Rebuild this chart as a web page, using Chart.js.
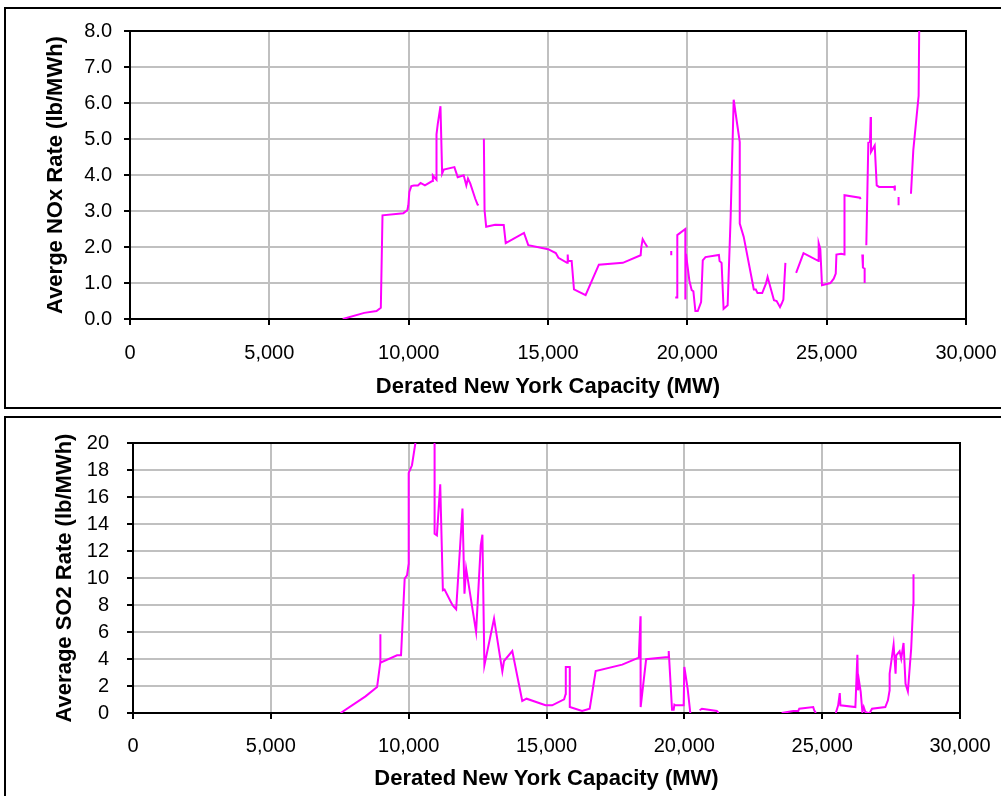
<!DOCTYPE html>
<html>
<head>
<meta charset="utf-8">
<script src="https://cdn.jsdelivr.net/npm/chart.js@4"></script>
<style>
  html, body { margin: 0; padding: 0; background: #fff; overflow: hidden; }
  body { width: 1001px; height: 796px; position: relative; }
  .frame { position: absolute; left: 4px; width: 1100px; border: 2px solid #000; }
  #frameTop { top: 7px; height: 398px; }
  #frameBottom { top: 416px; height: 500px; }
  canvas { position: absolute; left: 0; }
  #noxChart { top: 0; }
  #so2Chart { top: 410px; }
</style>
</head>
<body>
<div class="frame" id="frameTop"></div>
<div class="frame" id="frameBottom"></div>
<canvas id="noxChart" width="1001" height="408"></canvas>
<canvas id="so2Chart" width="1001" height="386"></canvas>

<script>
// ---------------- DATA ----------------
// derated capacity (MW) and NOx rate (lb/MWh); null = break in the line
const capNOx = [
    7634, 8407, 8847, 9001, 9061, 9810, 9952, 9988, 10024, 10095,
    10190, 10333, 10428, 10583, 10844, 10868, 10927, 10999, 10999, 11046,
    11141, 11201, 11260, 11641, 11760, 11974, 12069, 12129, 12212, 12390,
    12473, 12509, 12600, 12699, 12723, 12782, 13103, 13412, 13483, 14138,
    14292, 15005, 15279, 15374, 15683, 15707, 15720, 15754, 15849, 15933,
    16349, 16825, 17686, 18325, 18349, 18397, 18470, 18566, 19000, 19422,
    19423, 19500, 19566, 19639, 19640, 19928, 19929, 19940, 19952, 20072,
    20157, 20217, 20289, 20374, 20494, 20554, 20651, 21133, 21157, 21229,
    21301, 21446, 21554, 21663, 21880, 21881, 22024, 22386, 22458, 22518,
    22687, 22820, 22880, 23109, 23205, 23326, 23386, 23446, 23519, 23700,
    23904, 24169, 24712, 24713, 24772, 24832, 25133, 25254, 25326, 25350,
    25519, 25639, 25640, 26194, 26218, 26250, 26278, 26302, 26362, 26363,
    26390, 26423, 26495, 26555, 26579, 26590, 26724, 26796, 26880, 27423,
    27447, 27448, 27510, 27580, 27581, 27800, 28025, 28109, 28300, 28320
];
const rateNOx = [
    0, 0.17, 0.22, 0.31, 2.88, 2.94, 3.02, 3.16, 3.53, 3.69,
    3.71, 3.71, 3.78, 3.71, 3.83, 3.99, 3.93, 3.87, 5.13, 5.43,
    5.91, 4.04, 4.15, 4.22, 3.94, 3.99, 3.71, 3.90, 3.76, 3.34,
    3.18, 3.16, null, 5.01, 3.02, 2.56, 2.62, 2.61, 2.11, 2.39,
    2.05, 1.94, 1.83, 1.70, 1.56, 1.79, 1.61, 1.61, 1.61, 0.82,
    0.66, 1.51, 1.56, 1.77, 2.00, 2.22, 2.12, 2.00, null, 1.89,
    1.77, null, 0.60, 0.60, 2.33, 2.50, 0.54, null, 1.81, 1.07,
    0.80, 0.77, 0.22, 0.22, 0.47, 1.63, 1.72, 1.78, 1.61, 1.56,
    0.28, 0.38, 2.83, 6.09, 4.92, 2.65, 2.28, 0.82, 0.82, 0.72,
    0.72, 0.98, 1.17, 0.52, 0.50, 0.33, 0.43, 0.54, 1.56, null,
    1.28, 1.83, 1.61, 2.11, 1.95, 0.94, 1.00, 1.12, 1.26, 1.79,
    1.81, 1.79, 3.44, 3.37, 3.33, null, 1.79, 1.43, 1.40, 1.00,
    null, 2.05, 4.90, 4.92, 5.61, 4.64, 4.82, 3.71, 3.67, 3.67,
    3.71, 3.57, null, 3.39, 3.16, null, 3.48, 4.69, 6.20, 8.00
];

// derated capacity (MW) and SO2 rate (lb/MWh)
const capSO2 = [
    7530, 8434, 8855, 8970, 8972, 8976, 9578, 9723, 9855, 9940,
    10000, 10001, 10120, 10241, 10600, 10940, 10941, 11024, 11145, 11241,
    11301, 11591, 11723, 11952, 12024, 12085, 12446, 12615, 12675, 12747,
    13097, 13398, 13458, 13759, 14120, 14277, 14964, 15205, 15639, 15699,
    15700, 15844, 15845, 16290, 16567, 16784, 17747, 18349, 18409, 18415,
    18614, 19410, 19434, 19554, 19614, 19639, 19675, 19976, 20000, 20120,
    20217, 20400, 20554, 20639, 21181, 21241, 22000, 23531, 23952, 24133,
    24169, 24675, 24711, 24772, 25000, 25495, 25580, 25639, 25663, 26205,
    26278, 26302, 26338, 26398, 26459, 26507, 26567, 26663, 26723, 26808,
    27290, 27386, 27446, 27447, 27591, 27663, 27687, 27808, 27868, 27952,
    28024, 28109, 28229, 28300, 28313
];
const rateSO2 = [
    0, 1.23, 1.93, 3.73, 5.83, 3.73, 4.27, 4.27, 9.95, 10.20,
    11.06, 17.78, 18.35, 19.95, 25.0, 19.95, 13.28, 13.16, 16.94, 9.09,
    9.14, 7.98, 7.68, 15.14, 8.84, 10.69, 6.00, 12.42, 13.21, 3.53,
    6.99, 3.09, 3.85, 4.59, 0.89, 1.06, 0.57, 0.57, 1.01, 1.43,
    3.41, 3.41, 0.44, 0.15, 0.32, 3.11, 3.58, 4.10, 7.16, 0.44,
    3.98, 4.15, 4.59, 0.25, 0.25, 0.62, 0.57, 0.57, 3.41, 1.80,
    0, null, 0.20, 0.32, 0.15, 0, null, 0, 0.15, 0.15,
    0.32, 0.44, 0.20, 0, null, 0, 0.57, 1.48, 0.57, 0.44,
    4.32, 1.68, 2.37, 1.56, 0.07, 0.44, 0.07, 0, 0, 0.32,
    0.44, 0.94, 1.68, 2.91, 5.06, 2.91, 4.27, 4.57, 4.02, 5.19,
    2.17, 1.60, 4.77, 7.98, 10.27
];

const xTitle = "Derated New York Capacity (MW)";
const noxTitle = "Averge NOx Rate (lb/MWh)";
const so2Title = "Average SO2 Rate (lb/MWh)";

// ---------------- SETUP ----------------
Chart.defaults.font.family = '"Liberation Sans", Arial, sans-serif';
Chart.defaults.color = "#000";

// black box around the plot area (top and right edges)
const plotFrame = {
    id: "plotFrame",
    beforeDatasetsDraw(chart) {
        const a = chart.chartArea;
        const ctx = chart.ctx;
        ctx.save();
        ctx.strokeStyle = "#000";
        ctx.lineWidth = 2;
        ctx.strokeRect(a.left, a.top, a.right - a.left, a.bottom - a.top);
        ctx.restore();
    }
};

function makeChart(id, xs, ys, o) {
    const points = xs.map((x, i) => ({ x: x, y: ys[i] }));

    return new Chart(document.getElementById(id), {
        type: "scatter",
        data: {
            datasets: [{
                data: points,
                showLine: true,
                borderColor: "#ff00ff",
                borderWidth: 2,
                pointRadius: 0,
                spanGaps: false
            }]
        },
        options: {
            responsive: false,
            animation: false,
            devicePixelRatio: 1,
            layout: { padding: { left: 0, top: o.padTop, right: o.padRight, bottom: 0 } },
            plugins: { legend: { display: false }, tooltip: { enabled: false } },
            scales: {
                x: {
                    type: "linear",
                    min: 0,
                    max: 30000,
                    afterFit: s => {
                        s.height = o.xHeight;
                        s.paddingLeft = 0;
                        s.paddingRight = 0;
                    },
                    ticks: {
                        stepSize: 5000,
                        maxRotation: 0,
                        autoSkip: false,
                        padding: o.xPad,
                        font: { size: 20 },
                        callback: v => v.toLocaleString("en-US")
                    },
                    grid: { color: "#c0c0c0", lineWidth: 2, tickLength: 6, tickColor: "#000", tickWidth: 2 },
                    border: { color: "#000", width: 2 },
                    title: {
                        display: true,
                        text: xTitle,
                        font: { size: 22, weight: "bold", lineHeight: 1.2 },
                        padding: { top: 0, bottom: o.xTitlePad }
                    }
                },
                y: {
                    min: 0,
                    max: o.yMax,
                    afterFit: s => {
                        s.width = o.yWidth;
                        s.paddingTop = 0;
                        s.paddingBottom = 0;
                    },
                    ticks: {
                        stepSize: o.yStep,
                        padding: o.yPad,
                        font: { size: 20 },
                        callback: v => v.toFixed(o.yDec)
                    },
                    grid: { color: "#c0c0c0", lineWidth: 2, tickLength: 6, tickColor: "#000", tickWidth: 2 },
                    border: { color: "#000", width: 2 },
                    title: {
                        display: true,
                        text: o.yTitle,
                        font: { size: 22, weight: "bold", lineHeight: 1.2 },
                        padding: { top: o.yTitlePad, bottom: 0 }
                    }
                }
            }
        },
        plugins: [plotFrame]
    });
}

// ---------------- INIT ----------------
makeChart("noxChart", capNOx, rateNOx, {
    yMax: 8, yStep: 1, yDec: 1, yTitle: noxTitle,
    padTop: 31, padRight: 35, yWidth: 130, xHeight: 89,
    xPad: 16, yPad: 12, xTitlePad: 8, yTitlePad: 43
});

makeChart("so2Chart", capSO2, rateSO2, {
    yMax: 20, yStep: 2, yDec: 0, yTitle: so2Title,
    padTop: 33, padRight: 41, yWidth: 133, xHeight: 83,
    xPad: 15, yPad: 18, xTitlePad: 4, yTitlePad: 52
});
</script>
</body>
</html>
